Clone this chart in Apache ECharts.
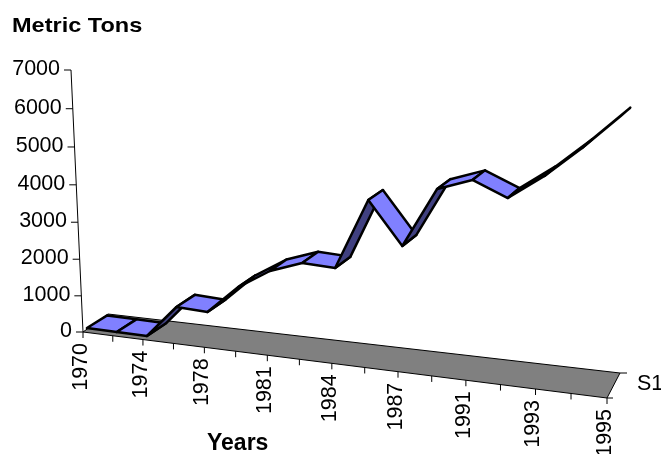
<!DOCTYPE html>
<html><head><meta charset="utf-8">
<style>html,body{margin:0;padding:0;background:#fff}#c{width:661px;height:454px}</style>
<script src="https://cdn.jsdelivr.net/npm/echarts@6/dist/echarts.min.js"></script>
</head><body><div id="c"></div>
<script>
var years = ['1970','1972','1974','1976','1978','1980','1981','1983','1984','1986','1987','1989','1991','1992','1993','1994','1995'];
var tons = [42,35,29,922,887,1653,2170,2471,2434,4254,3178,4688,4987,4624,5238,5981,6802];
var yTicks = [0,1000,2000,3000,4000,5000,6000,7000];
var yTitle = 'Metric Tons';
var xTitle = 'Years';
var seriesName = 'S1';

// 3-D view of the chart's front wall: unit square -> picture
var FONT = '21.5px "Liberation Sans", Arial, sans-serif';
var Q = {a:[83,332], b:[607,398], c:[71,70], d:[617,110]};
var H = (function(){
  var sx=Q.a[0]-Q.b[0]+Q.d[0]-Q.c[0], sy=Q.a[1]-Q.b[1]+Q.d[1]-Q.c[1];
  var d1x=Q.b[0]-Q.d[0], d1y=Q.b[1]-Q.d[1], d2x=Q.c[0]-Q.d[0], d2y=Q.c[1]-Q.d[1];
  var det=d1x*d2y-d2x*d1y, g=(sx*d2y-d2x*sy)/det, h=(d1x*sy-sx*d1y)/det;
  return function(u,t){
    var w=1+g*u+h*t;
    return [(Q.a[0]+(Q.b[0]-Q.a[0]+g*Q.b[0])*u+(Q.c[0]-Q.a[0]+h*Q.c[0])*t)/w,
            (Q.a[1]+(Q.b[1]-Q.a[1]+g*Q.b[1])*u+(Q.c[1]-Q.a[1]+h*Q.c[1])*t)/w];
  };
})();
function wall(params, api, cat, val){
  var c=api.coord([cat,val]), r=params.coordSys;
  return H((c[0]-r.x)/r.width, (r.y+r.height-c[1])/r.height);
}
function front(p){ return [p[0]+4, p[1]-2.5]; }
function back(p){ return [p[0]+0.02*(1100-p[0]), p[1]+0.02*(-300-p[1])]; }

function renderFloor(params, api){
  var n=years.length-1, a=wall(params,api,0,0), b=wall(params,api,n,0);
  var bb=[b[0]+13,b[1]-25], ab=[a[0]+25,a[1]-18];
  return {type:'group',children:[
    {type:'polygon',shape:{points:[a,b,bb,ab]},style:{fill:'#808080',stroke:'#000',lineWidth:1}},
    {type:'line',shape:{x1:bb[0],y1:bb[1],x2:bb[0]+7,y2:bb[1]},style:{stroke:'#000',lineWidth:1}},
    {type:'line',shape:{x1:b[0],y1:b[1],x2:b[0]+6,y2:b[1]},style:{stroke:'#000',lineWidth:1}},
    {type:'text',x:bb[0]+17,y:bb[1]+11,style:{text:seriesName,font:FONT,fill:'#000',align:'left',verticalAlign:'middle'}}
  ]};
}
function renderRibbon(params, api){
  var i=api.value(0);
  var f0=front(wall(params,api,i,api.value(1))), f1=front(wall(params,api,i+1,api.value(2)));
  var b0=back(f0), b1=back(f1);
  var sx=f1[0]-f0[0], sy=f1[1]-f0[1], dx=b0[0]-f0[0], dy=b0[1]-f0[1];
  var dark=(sx*dy-sy*dx)>0;
  return {type:'polygon',shape:{points:[f0,f1,b1,b0]},
    style:{fill:dark?'#404080':'#8080FF',stroke:'#000',lineWidth:2.5,lineJoin:'round'}};
}
function renderXTick(params, api){
  var i=api.value(0), p=wall(params,api,i,0), kids=[
    {type:'line',shape:{x1:p[0],y1:p[1],x2:p[0],y2:p[1]+6},style:{stroke:'#000',lineWidth:1}}];
  if(i%2===0) kids.push({type:'text',x:p[0]-2,y:p[1]+11,rotation:Math.PI/2,
    style:{text:years[i],font:FONT,fill:'#000',align:'right',verticalAlign:'middle'}});
  return {type:'group',children:kids};
}
function renderYTick(params, api){
  var v=api.value(1), p=wall(params,api,0,v);
  return {type:'group',children:[
    {type:'line',shape:{x1:p[0]-7,y1:p[1],x2:p[0],y2:p[1]},style:{stroke:'#000',lineWidth:1}},
    {type:'text',x:p[0]-11,y:p[1]-1,style:{text:String(v),font:FONT,fill:'#000',align:'right',verticalAlign:'middle'}}
  ]};
}
function renderYLine(params, api){
  var a=wall(params,api,0,yTicks[0]), b=wall(params,api,0,yTicks[yTicks.length-1]);
  return {type:'line',shape:{x1:a[0],y1:a[1],x2:b[0],y2:b[1]},style:{stroke:'#000',lineWidth:1}};
}

var chart=echarts.init(document.getElementById('c'),null,{renderer:'canvas'});
chart.setOption({
  animation:false,
  backgroundColor:'#fff',
  grid:{left:83,right:54,top:70,bottom:56},
  xAxis:{type:'category',data:years,boundaryGap:false,show:false},
  yAxis:{type:'value',min:0,max:7000,interval:1000,show:false},
  graphic:[
    {type:'text',x:12,y:26,scaleX:1.12,style:{text:yTitle,font:'bold 21px "Liberation Sans", Arial, sans-serif',fill:'#000',verticalAlign:'middle'}},
    {type:'text',x:207,y:444,style:{text:xTitle,font:'bold 23px "Liberation Sans", Arial, sans-serif',fill:'#000',verticalAlign:'middle'}}
  ],
  series:[
    {type:'custom',clip:false,silent:true,z:1,renderItem:renderYLine,data:[[0,0]]},
    {type:'custom',clip:false,silent:true,z:2,renderItem:renderFloor,data:[[0,0]]},
    {type:'custom',clip:false,silent:true,z:3,renderItem:renderXTick,data:years.map(function(y,i){return [i,0];})},
    {type:'custom',clip:false,silent:true,z:3,renderItem:renderYTick,data:yTicks.map(function(v){return [0,v];})},
    {type:'custom',clip:false,silent:true,z:4,renderItem:renderRibbon,encode:{x:0,y:1},
      data:tons.slice(0,-1).map(function(v,i){return [i,v,tons[i+1]];})}
  ]
});
</script></body></html>
